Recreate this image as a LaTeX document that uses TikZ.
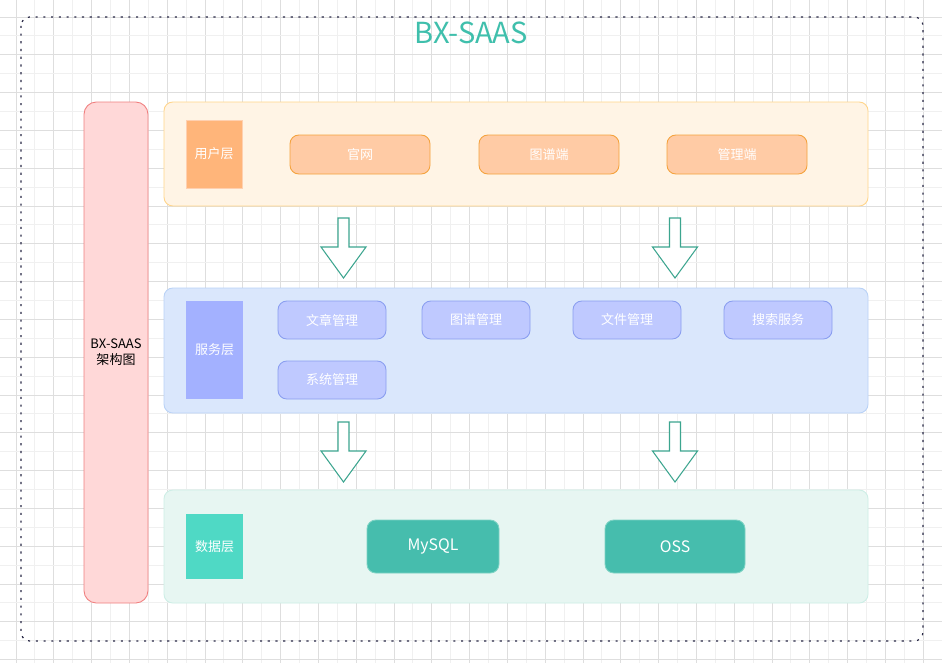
\documentclass[tikz,border=0pt]{standalone}
\usepackage{fontspec}
\setmainfont{Noto Sans CJK SC}
\begin{document}
\begin{tikzpicture}[x=0.02cm,y=-0.02cm,
  sz/.style 2 args={minimum width=#1*0.02cm, minimum height=#2*0.02cm, inner sep=0pt},
  layer/.style={rounded corners=5pt, line width=0.5pt},
  lbl/.style={text=white, font=\fontsize{7.4}{9}\selectfont, line width=0.5pt},
  btn/.style={rounded corners=5pt, text=white, font=\fontsize{7.4}{9}\selectfont, line width=0.5pt},
  blockarrow/.style={draw=arrowc, fill=white, line width=0.6pt}
]
\definecolor{gridl}{HTML}{F0F0F0}
\definecolor{gridd}{HTML}{DEDEDE}
\definecolor{titlec}{HTML}{3FBFAC}
\definecolor{arrowc}{HTML}{3CA58F}
\useasboundingbox (0,0) rectangle (942,663);
\fill[white] (0,0) rectangle (942,663);
% grid
\foreach \i in {0,...,49}{
  \pgfmathsetmacro{\gx}{16+18.9*\i}
  \pgfmathtruncatemacro{\gpar}{mod(\i,2)}
  \ifnum\gpar=0 \def\gc{gridd}\else\def\gc{gridl}\fi
  \draw[\gc, line width=0.5pt] (\gx,0) -- (\gx,663);
}
\foreach \i in {-1,...,34}{
  \pgfmathsetmacro{\gy}{17+18.9*\i}
  \pgfmathtruncatemacro{\gpar}{mod(\i+2,2)}
  \ifnum\gpar=0 \def\gc{gridd}\else\def\gc{gridl}\fi
  \draw[\gc, line width=0.5pt] (0,\gy) -- (942,\gy);
}
% outer dotted frame
\draw[color={rgb,255:red,40;green,40;blue,70}, line width=0.7pt, dash pattern=on 1.2pt off 3.2pt, rounded corners=5pt] (21,17) rectangle (923,641);
\node[text=titlec, font=\fontsize{16.5}{18}\selectfont] (title) at (471,33) {BX-SAAS};

% left column
\node[draw={rgb,255:red,240;green,128;blue,128}, fill={rgb,255:red,255;green,216;blue,216}, rounded corners=7pt, line width=0.5pt, sz={64}{501}, align=center, font=\fontsize{7.4}{9}\selectfont] (arch) at (116,352.5) {BX-SAAS\\架构图};

% user layer
\node[layer, draw={rgb,255:red,255;green,213;blue,138}, fill={rgb,255:red,255;green,244;blue,229}, sz={704}{104}] (ul) at (516,154) {};
\node[lbl, fill={rgb,255:red,255;green,181;blue,122}, draw={rgb,255:red,255;green,208;blue,176}, sz={56}{68}] (ull) at (214,154) {用户层};
\foreach \n/\t/\cx in {u1/官网/360, u2/图谱端/549, u3/管理端/737}{
  \node[btn, fill={rgb,255:red,255;green,203;blue,165}, draw={rgb,255:red,245;green,162;blue,60}, sz={140}{39}] (\n) at (\cx,154.5) {\t};
}

% service layer
\node[layer, draw={rgb,255:red,185;green,210;blue,247}, fill={rgb,255:red,218;green,231;blue,252}, sz={704}{125}] (sl) at (516,350.5) {};
\node[lbl, fill={rgb,255:red,163;green,177;blue,255}, sz={57}{98}] (sll) at (214.5,350) {服务层};
\foreach \n/\t/\cx/\cy in {s1/文章管理/332/320, s2/图谱管理/476/320, s3/文件管理/627/320, s4/搜索服务/778/320, s5/系统管理/332/380}{
  \node[btn, fill={rgb,255:red,191;green,201;blue,255}, draw={rgb,255:red,138;green,158;blue,240}, sz={108}{38}] (\n) at (\cx,\cy) {\t};
}

% data layer
\node[layer, draw={rgb,255:red,205;green,238;blue,230}, fill={rgb,255:red,231;green,246;blue,242}, sz={704}{113}] (dl) at (516,546.5) {};
\node[lbl, fill={rgb,255:red,79;green,217;blue,197}, sz={57}{65}] (dll) at (214.5,546.5) {数据层};
\node[btn, fill={rgb,255:red,70;green,189;blue,173}, draw={rgb,255:red,126;green,211;blue,196}, sz={132}{53}, font=\fontsize{9}{11}\selectfont] (d1) at (433,546.5) {\raisebox{-1pt}{MySQL}};
\node[btn, fill={rgb,255:red,70;green,189;blue,173}, draw={rgb,255:red,126;green,211;blue,196}, sz={140}{53}, font=\fontsize{9}{11}\selectfont] (d2) at (675,546.5) {\raisebox{-1pt}{OSS}};

% block arrows
\foreach \ax/\ay [count=\k] in {343.5/218, 675/218, 343.5/422, 675/422}{
  \coordinate (a\k) at (\ax,\ay);
  \draw[blockarrow] ([xshift=-5.5*0.02cm]a\k) -- ++(0,29) -- ++(-17,0) -- ++(22.5,31) -- ++(22.5,-31) -- ++(-17,0) -- ++(0,-29) -- cycle;
}
\end{tikzpicture}
\end{document}
